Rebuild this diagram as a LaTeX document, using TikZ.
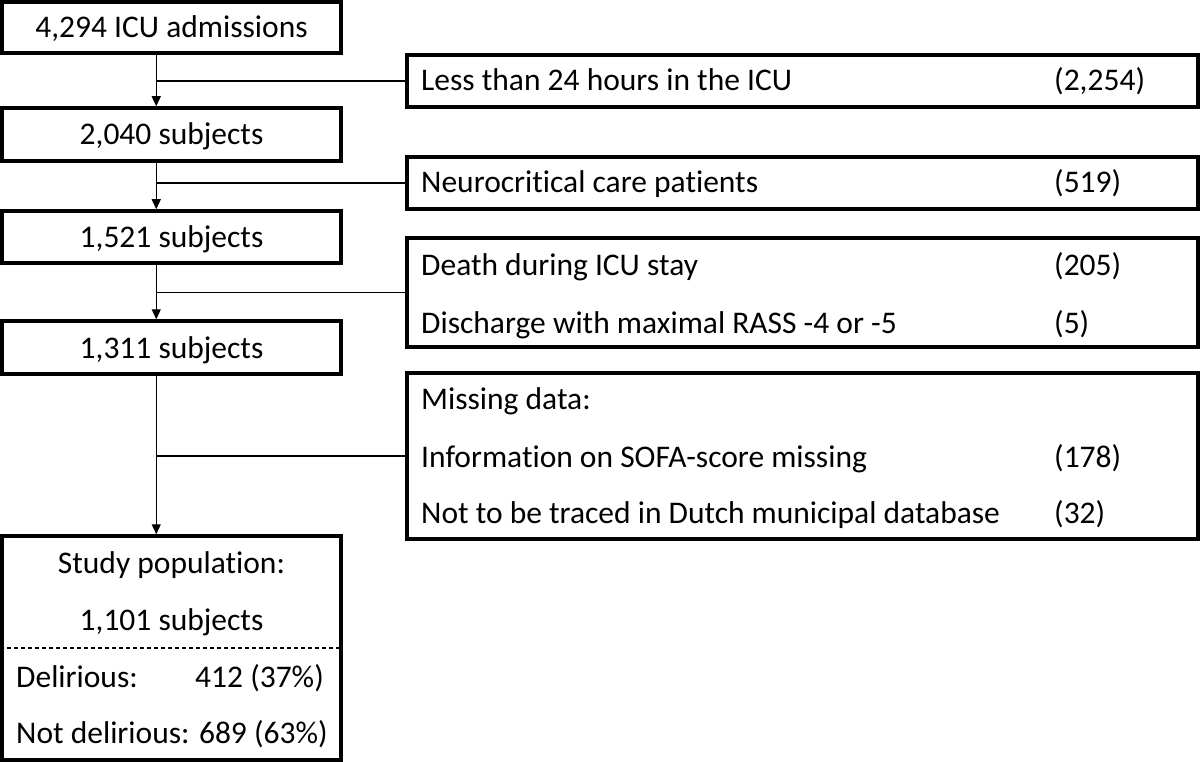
\documentclass[tikz,border=0pt]{standalone}
\usepackage{fontspec}
\setmainfont[Ligatures=NoCommon]{Carlito}
\usetikzlibrary{arrows.meta}
\begin{document}
\begin{tikzpicture}[x=1pt,y=-1pt,
  box/.style={draw=black,line width=3.5pt,rectangle,inner sep=0pt},
  txt/.style={inner sep=0pt,font=\fontsize{31.5}{38}\selectfont,anchor=base},
  ltxt/.style={txt,anchor=base west},
  rtxt/.style={txt,anchor=base east},
  conn/.style={line width=1.3pt,draw=black},
  arr/.style={conn,-{Triangle[width=9pt,length=10pt]}},
  sep/.style={line width=1.2pt,dash pattern=on 4pt off 3pt}]
\useasboundingbox (0,0) rectangle (1200,762);
% left column boxes
\node[box,minimum width=339pt,minimum height=51pt] (b1) at (171.5,27.5) {};
\node[box,minimum width=339pt,minimum height=53pt] (b2) at (171.5,134.5) {};
\node[box,minimum width=339pt,minimum height=52pt] (b3) at (171.5,237) {};
\node[box,minimum width=339pt,minimum height=53pt] (b4) at (171.5,347.5) {};
\node[box,minimum width=339pt,minimum height=224pt] (b5) at (171.5,648) {};
\node[txt] (t1) at (171.5,38) {4,294 ICU admissions};
\node[txt] (t2) at (171.5,145) {2,040 subjects};
\node[txt] (t3) at (171.5,248) {1,521 subjects};
\node[txt] (t4) at (171.5,358) {1,311 subjects};
\node[txt] (t5a) at (171.5,573) {Study population:};
\node[txt] (t5b) at (171.5,630) {1,101 subjects};
\node[ltxt] (t5c) at (16,687) {Delirious:};
\node[rtxt] (t5d) at (324,687) {412 (37\%)};
\node[ltxt] (t5e) at (16,743) {Not delirious: 689 (63\%)};
\draw[sep] (b5.west |- 0,648) -- (b5.east |- 0,648);
% right column boxes
\node[box,minimum width=791pt,minimum height=52pt] (r1) at (802.5,81) {};
\node[box,minimum width=791pt,minimum height=52pt] (r2) at (802.5,183) {};
\node[box,minimum width=791pt,minimum height=109pt] (r3) at (802.5,292.5) {};
\node[box,minimum width=791pt,minimum height=166pt] (r4) at (802.5,456) {};
\node[ltxt] (r1a) at (421,91) {Less than 24 hours in the ICU};
\node[ltxt] (r1n) at (1054,91) {(2,254)};
\node[ltxt] (r2a) at (421,193) {Neurocritical care patients};
\node[ltxt] (r2n) at (1054,193) {(519)};
\node[ltxt] (r3a) at (421,276) {Death during ICU stay};
\node[ltxt] (r3n) at (1054,276) {(205)};
\node[ltxt] (r3b) at (421,333) {Discharge with maximal RASS -4 or -5};
\node[ltxt] (r3m) at (1054,333) {(5)};
\node[ltxt] (r4a) at (421,409) {Missing data:};
\node[ltxt] (r4b) at (421,467) {Information on SOFA-score missing};
\node[ltxt] (r4n) at (1054,467) {(178)};
\node[ltxt] (r4c) at (421,523) {Not to be traced in Dutch municipal database};
\node[ltxt] (r4m) at (1054,523) {(32)};
% spine connectors
\draw[arr] ([xshift=156pt]b1.south west) -- ([xshift=156pt]b2.north west);
\draw[arr] ([xshift=156pt]b2.south west) -- ([xshift=156pt]b3.north west);
\draw[arr] ([xshift=156pt]b3.south west) -- ([xshift=156pt]b4.north west);
\draw[arr] ([xshift=156pt]b4.south west) -- ([xshift=156pt]b5.north west);
% branches
\draw[conn] ([xshift=156pt]b1.south west |- r1.west) -- (r1.west);
\draw[conn] ([xshift=156pt]b2.south west |- r2.west) -- (r2.west);
\draw[conn] ([xshift=156pt]b3.south west |- r3.west) -- (r3.west);
\draw[conn] ([xshift=156pt]b4.south west |- r4.west) -- (r4.west);
\end{tikzpicture}
\end{document}
